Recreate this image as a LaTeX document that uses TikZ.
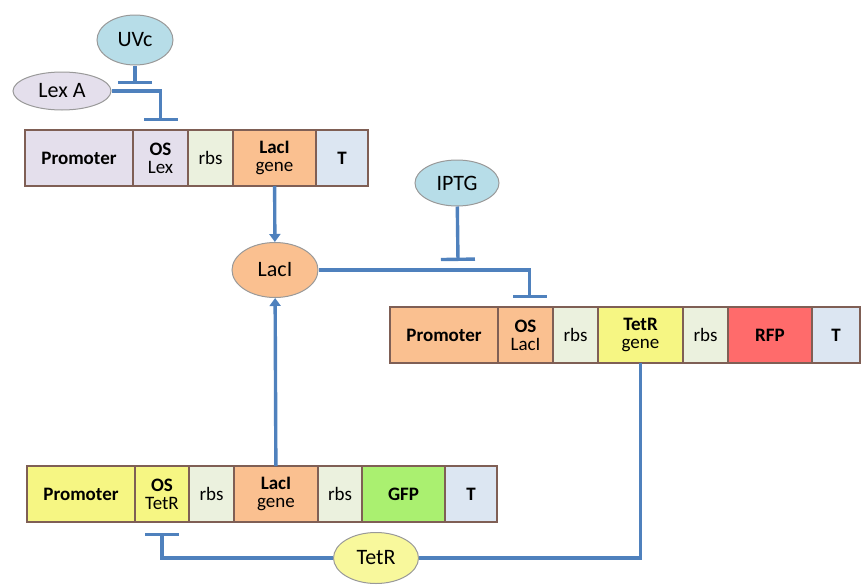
\documentclass[tikz,border=0pt]{standalone}
\usepackage{fontspec}
\setmainfont{Carlito}
\usetikzlibrary{shapes.geometric, arrows.meta, positioning}

\definecolor{linkblue}{HTML}{4F81BD}
\definecolor{boxedge}{HTML}{7F5F55}
\definecolor{lexlilac}{HTML}{E4DFEC}
\definecolor{rbsgreen}{HTML}{EBF1DE}
\definecolor{lacorange}{HTML}{FAC090}
\definecolor{termblue}{HTML}{DCE6F2}
\definecolor{tetyellow}{HTML}{F6F683}
\definecolor{gfpgreen}{HTML}{AAF070}
\definecolor{rfpred}{HTML}{FF6B6B}
\definecolor{sigblue}{HTML}{B7DDE8}

\tikzset{
  part/.style={draw=boxedge, line width=1.6pt, rectangle, minimum height=56pt,
    inner sep=0pt, outer sep=0pt, align=center, font=\fontsize{19}{18}\selectfont},
  mol/.style={ellipse, draw=black!40, line width=1pt, inner sep=0pt,
    font=\fontsize{22}{26}\selectfont},
  link/.style={draw=linkblue, line width=3.4pt},
  repress/.style={link, -{Bar[width=34pt, line width=3.4pt]}},
  activ/.style={link, -{Triangle[width=11pt, length=8pt]}}
}

\begin{document}
\begin{tikzpicture}[x=1pt, y=-1pt]
  \useasboundingbox (0,0) rectangle (862,584);
  % Top construct
  \node[part, fill=lexlilac, minimum width=108pt, anchor=west] (promA) at (25,158) {\textbf{Promoter}};
  \node[part, fill=lexlilac, minimum width=55pt, right=0pt of promA] (oslex) {\textbf{OS}\\Lex};
  \node[part, fill=rbsgreen, minimum width=45pt, right=0pt of oslex] (rbsA) {rbs};
  \node[part, fill=lacorange, minimum width=83pt, right=0pt of rbsA] (lacgeneA) {\textbf{LacI}\\gene};
  \node[part, fill=termblue, minimum width=52pt, right=0pt of lacgeneA] (termA) {\textbf{T}};
  % Middle construct
  \node[part, fill=lacorange, minimum width=108pt, anchor=west] (promB) at (390,335) {\textbf{Promoter}};
  \node[part, fill=lacorange, minimum width=55pt, right=0pt of promB] (oslaci) {\textbf{OS}\\LacI};
  \node[part, fill=rbsgreen, minimum width=45pt, right=0pt of oslaci] (rbsB) {rbs};
  \node[part, fill=tetyellow, minimum width=85pt, right=0pt of rbsB] (tetrgene) {\textbf{TetR}\\gene};
  \node[part, fill=rbsgreen, minimum width=45pt, right=0pt of tetrgene] (rbsC) {rbs};
  \node[part, fill=rfpred, minimum width=84pt, right=0pt of rbsC] (rfp) {\textbf{RFP}};
  \node[part, fill=termblue, minimum width=48pt, right=0pt of rfp] (termB) {\textbf{T}};
  % Bottom construct
  \node[part, fill=tetyellow, minimum width=108pt, anchor=west] (promC) at (27,494) {\textbf{Promoter}};
  \node[part, fill=tetyellow, minimum width=54pt, right=0pt of promC] (ostetr) {\textbf{OS}\\TetR};
  \node[part, fill=rbsgreen, minimum width=45pt, right=0pt of ostetr] (rbsD) {rbs};
  \node[part, fill=lacorange, minimum width=84pt, right=0pt of rbsD] (lacgeneB) {\textbf{LacI}\\gene};
  \node[part, fill=rbsgreen, minimum width=44pt, right=0pt of lacgeneB] (rbsE) {rbs};
  \node[part, fill=gfpgreen, minimum width=83pt, right=0pt of rbsE] (gfp) {\textbf{GFP}};
  \node[part, fill=termblue, minimum width=52pt, right=0pt of gfp] (termC) {\textbf{T}};
  % Molecules
  \node[mol, fill=sigblue, minimum width=76pt, minimum height=50pt] (uvc) at (135,40) {UVc};
  \node[mol, fill=lexlilac, minimum width=98pt, minimum height=38pt] (lexa) at (62,91) {Lex A};
  \node[mol, fill=lacorange, minimum width=86pt, minimum height=55pt] (laci) at (275,270) {LacI};
  \node[mol, fill=sigblue, minimum width=84pt, minimum height=46pt] (iptg) at (457,183) {IPTG};
  \node[mol, fill=tetyellow!80!white, minimum width=85pt, minimum height=51pt] (tetr) at (376,558) {TetR};
  \coordinate (uvcstop) at (135,84);
  \coordinate (iptgstop) at (458,261);
  % Arrows
  \draw[repress] (uvc) -- (uvcstop);
  \draw[repress] (lexa.east) -| ([yshift=9pt]oslex.north);
  \draw[activ] (lacgeneA) -- (laci);
  \draw[repress] (iptg) -- (iptgstop);
  \draw[repress] (laci.east) -| ([xshift=4pt, yshift=9pt]oslaci.north);
  \draw[activ] (lacgeneB) -- (laci);
  \draw[link] (tetrgene.south) |- (tetr.east);
  \draw[repress] (tetr.west) -| ([yshift=-11pt]ostetr.south);
\end{tikzpicture}
\end{document}
